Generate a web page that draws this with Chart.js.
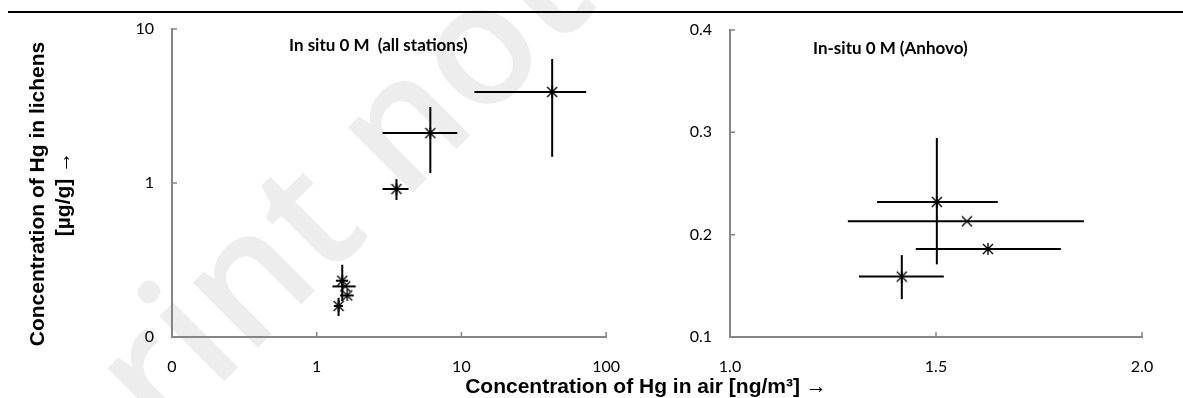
<!DOCTYPE html>
<html>
<head>
<meta charset="utf-8">
<script src="https://cdn.jsdelivr.net/npm/chart.js@4.4.1/dist/chart.umd.min.js"></script>
<style>
  html, body { margin: 0; padding: 0; background: #fff; }
  #wrap { position: relative; width: 1183px; height: 398px; overflow: hidden; font-family: 'Liberation Sans', Arial, sans-serif; }
  #topRule { position: absolute; left: 8px; right: 0; top: 11px; border-top: 2px solid #000; }
  #watermark { position: absolute; left: -214px; top: 606px; transform-origin: 0 0; transform: rotate(-45deg);
    font-family: 'Open Sans', sans-serif; font-weight: 600; font-size: 170px; line-height: 170px; color: #ededed; white-space: nowrap; }
  .box { position: absolute; top: 0; height: 398px; }
  #leftBox { left: 0; width: 640px; }
  #rightBox { left: 640px; width: 543px; }
  .panelTitle { position: absolute; font-family: Lato, sans-serif; font-weight: bold; font-size: 17px; line-height: 17px; white-space: pre; color: #000; }
  #yTitle { position: absolute; left: -120px; top: 168px; width: 340px; height: 52px; line-height: 26px; text-align: center;
    transform: rotate(-90deg); font-weight: bold; font-size: 21px; color: #000; white-space: nowrap; }
  #xTitle { position: absolute; left: 396px; width: 500px; top: 374px; text-align: center; font-weight: bold; font-size: 21px; line-height: 24px; color: #000; white-space: nowrap; }
</style>
</head>
<body>
<div id="wrap">
  <div id="watermark">Preprint not peer reviewed</div>
  <div id="topRule"></div>
  <div class="box" id="leftBox"><canvas id="leftChart" width="640" height="398"></canvas></div>
  <div class="box" id="rightBox"><canvas id="rightChart" width="543" height="398"></canvas></div>
  <div class="panelTitle" style="left:289px; top:36px;">In situ 0 M  (all stations)</div>
  <div class="panelTitle" style="left:813px; top:39px;">In-situ 0 M (Anhovo)</div>
  <div id="yTitle">Concentration of Hg in lichens<br>[µg/g] →</div>
  <div id="xTitle">Concentration of Hg in air [ng/m³] →</div>
</div>
<script>
// other stations (upper three points of the left panel)
const otherAir      = [42.4, 6.1, 3.56]
const otherAirLow   = [12.3, 2.85, 2.85]
const otherAirHigh  = [72.8, 9.38, 4.31]
const otherLichen     = [3.9, 2.11, 0.914]
const otherLichenLow  = [1.48, 1.16, 0.776]
const otherLichenHigh = [6.38, 3.12, 1.06]
const otherMarker = ['star', 'star', 'star']

// Anhovo (shown in both panels)
const anhovoAir      = [1.502, 1.575, 1.626, 1.417]
const anhovoAirLow   = [1.357, 1.286, 1.451, 1.313]
const anhovoAirHigh  = [1.650, 1.859, 1.803, 1.519]
const anhovoLichen     = [0.232, 0.213, 0.186, 0.159]
const anhovoLichenLow  = [0.171, null, null, 0.137]
const anhovoLichenHigh = [0.2945, null, null, 0.180]
const anhovoMarker = ['star', 'cross', 'star', 'star']

// tick values / labels
const leftXTicks = [0.1, 1, 10, 100]
const leftXLabels = ['0', '1', '10', '100']
const leftYTicks = [0.1, 1, 10]
const leftYLabels = ['0', '1', '10']
const rightXTicks = [1.0, 1.5, 2.0]
const rightXLabels = ['1.0', '1.5', '2.0']
const rightYTicks = [0.1, 0.2, 0.3, 0.4]
const rightYLabels = ['0.1', '0.2', '0.3', '0.4']

const AXIS = '#868686'
const tickFont = { family: 'Lato', size: 16 }

// Excel-like markers: star = X plus vertical stroke, cross = X only
function makeMarker(kind) {
  const c = document.createElement('canvas')
  c.width = 12; c.height = 12
  const g = c.getContext('2d')
  g.strokeStyle = '#000'
  g.lineWidth = 1.4
  g.beginPath()
  g.moveTo(1, 1); g.lineTo(11, 11)
  g.moveTo(11, 1); g.lineTo(1, 11)
  if (kind === 'star') { g.moveTo(6, 0); g.lineTo(6, 12) }
  g.stroke()
  return c
}
const markers = { star: makeMarker('star'), cross: makeMarker('cross') }

function buildDatasets(air, airLo, airHi, lic, licLo, licHi, kinds) {
  const sets = []
  air.forEach((x, i) => {
    sets.push({ type: 'line', data: [{ x: airLo[i], y: lic[i] }, { x: airHi[i], y: lic[i] }],
      borderColor: '#000', borderWidth: 2, pointRadius: 0, showLine: true })
    if (licLo[i] != null) {
      sets.push({ type: 'line', data: [{ x: x, y: licLo[i] }, { x: x, y: licHi[i] }],
        borderColor: '#000', borderWidth: 2, pointRadius: 0, showLine: true })
    }
  })
  sets.push({
    data: air.map((x, i) => ({ x: x, y: lic[i] })),
    pointStyle: kinds.map(k => markers[k]),
    pointRadius: 6,
  })
  return sets
}

// tick marks drawn inward from the axis lines
const innerTicks = {
  id: 'innerTicks',
  afterDraw(chart) {
    const { ctx, chartArea: a, scales } = chart
    ctx.save()
    ctx.strokeStyle = AXIS
    ctx.lineWidth = 1.5
    ctx.beginPath()
    scales.x.ticks.forEach(t => {
      const px = scales.x.getPixelForValue(t.value)
      ctx.moveTo(px, a.bottom); ctx.lineTo(px, a.bottom - 5)
    })
    scales.y.ticks.forEach(t => {
      const py = scales.y.getPixelForValue(t.value)
      ctx.moveTo(a.left, py); ctx.lineTo(a.left + 5, py)
    })
    ctx.stroke()
    ctx.restore()
  }
}

function axis(type, min, max, vals, labels, isX, size) {
  return {
    type, min, max,
    afterBuildTicks: s => { s.ticks = vals.map(v => ({ value: v })) },
    afterFit: s => { if (isX) s.height = size; else s.width = size },
    ticks: { callback: (v, i) => labels[i], font: tickFont, color: '#000',
      padding: isX ? 20 : 18, maxRotation: 0, autoSkip: false },
    grid: { display: true, drawOnChartArea: false, drawTicks: false },
    border: { color: AXIS, width: 2 },
  }
}

function makeChart(id, datasets, pad, scales) {
  return new Chart(document.getElementById(id), {
    type: 'scatter',
    data: { datasets },
    options: {
      responsive: false, animation: false,
      layout: { padding: pad },
      plugins: { legend: { display: false }, tooltip: { enabled: false } },
      scales,
    },
    plugins: [innerTicks],
  })
}

makeChart('leftChart',
  buildDatasets(otherAir, otherAirLow, otherAirHigh, otherLichen, otherLichenLow, otherLichenHigh, otherMarker)
    .concat(buildDatasets(anhovoAir, anhovoAirLow, anhovoAirHigh, anhovoLichen, anhovoLichenLow, anhovoLichenHigh, anhovoMarker)),
  { top: 29, right: 33, bottom: 0, left: 0 },
  {
    x: axis('logarithmic', 0.1, 100, leftXTicks, leftXLabels, true, 61),
    y: axis('logarithmic', 0.1, 10, leftYTicks, leftYLabels, false, 172),
  })

makeChart('rightChart',
  buildDatasets(anhovoAir, anhovoAirLow, anhovoAirHigh, anhovoLichen, anhovoLichenLow, anhovoLichenHigh, anhovoMarker),
  { top: 30, right: 41, bottom: 0, left: 0 },
  {
    x: axis('linear', 1.0, 2.0, rightXTicks, rightXLabels, true, 61),
    y: axis('linear', 0.1, 0.4, rightYTicks, rightYLabels, false, 90),
  })
</script>
</body>
</html>
